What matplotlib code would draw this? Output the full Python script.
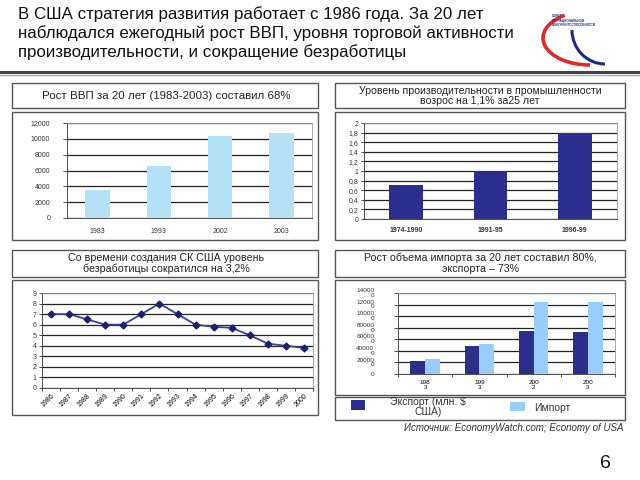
import numpy as np
import matplotlib
matplotlib.use('Agg')
import matplotlib.pyplot as plt
from matplotlib.patches import Rectangle, Arc

plt.rcParams['font.family'] = ['Liberation Sans', 'DejaVu Sans']

W, H = 640, 480

# data
gdp_years = ['1983', '1993', '2002', '2003']
gdp_vals = [3500, 6600, 10300, 10800]

prod_periods = ['1974-1990', '1991-95', '1996-99']
prod_vals = [0.7, 1.0, 1.8]

unemp_years = ['1986', '1987', '1988', '1989', '1990', '1991', '1992', '1993',
               '1994', '1995', '1996', '1997', '1998', '1999', '2000']
unemp_vals = [7, 7, 6.5, 6, 6, 7, 8, 7, 6, 5.8, 5.7, 5, 4.2, 4, 3.8]

trade_years = ['198\n3', '199\n3', '200\n2', '200\n3']
export_vals = [23000, 48000, 75000, 73000]
import_vals = [26000, 52000, 125000, 124000]
trade_ticks = ['0', '20000\n0', '40000\n0', '60000\n0', '80000\n0',
               '10000\n0', '12000\n0', '14000\n0']

light = '#b3e1f7'
navy = '#2b2e8c'
imp_col = '#99ccff'


def rect(x0, y0, x1, y1):
    return [x0 / W, 1 - y1 / H, (x1 - x0) / W, (y1 - y0) / H]


def fx(x):
    return x / W


def fy(y):
    return 1 - y / H


fig = plt.figure(figsize=(6.4, 4.8), dpi=100)


def frame(x0, y0, x1, y1, lw=1.0):
    fig.patches.append(Rectangle((fx(x0), fy(y1)), (x1 - x0) / W, (y1 - y0) / H,
                                 transform=fig.transFigure, fill=False,
                                 edgecolor='#555555', linewidth=lw))


def style_ax(ax):
    ax.set_facecolor('white')
    for s in ['top', 'right']:
        ax.spines[s].set_color('#999999')
        ax.spines[s].set_linewidth(0.6)
    ax.spines['left'].set_color('#333333')
    ax.spines['bottom'].set_color('#333333')
    ax.spines['left'].set_linewidth(0.6)
    ax.spines['bottom'].set_linewidth(0.6)
    ax.yaxis.grid(True, color='#222222', linewidth=0.9)
    ax.set_axisbelow(True)
    ax.tick_params(labelsize=5, length=2, width=0.6, pad=2, colors='#333333')


# heading
title = ('В США стратегия развития работает с 1986 года. За 20 лет\n'
         'наблюдался ежегодный рост ВВП, уровня торговой активности\n'
         'производительности, и сокращение безработицы')
fig.text(fx(18), fy(6), title, fontsize=12.2, va='top', ha='left',
         linespacing=1.24, color='#111111')
fig.lines.append(plt.Line2D([0, 1], [fy(72), fy(72)], transform=fig.transFigure,
                            color='#444444', linewidth=2.2))
fig.lines.append(plt.Line2D([0, 1], [fy(75), fy(75)], transform=fig.transFigure,
                            color='#aaaaaa', linewidth=1.0))

# logo (pixel coordinates, y down)
lax = fig.add_axes(rect(535, 8, 615, 70))
lax.set_xlim(535, 615)
lax.set_ylim(70, 8)
lax.axis('off')
lax.add_patch(Arc((590, 38), 94, 54, theta1=90, theta2=222, color='#dd2a2a', lw=2.6))
lax.add_patch(Arc((605, 30), 66, 68, theta1=90, theta2=180, color='#1c2a80', lw=2.2))
lax.text(552, 14, 'СОВЕТ\nПО НАЦИОНАЛЬНОЙ\nКОНКУРЕНТОСПОСОБНОСТИ', fontsize=2.2,
         color='#1f2a7a', va='top', fontweight='bold', linespacing=1.2)

# panel 1: GDP
frame(12, 83, 318, 108)
fig.text(fx(166), fy(96), 'Рост ВВП за 20 лет (1983-2003) составил 68%',
         fontsize=8.25, ha='center', va='center', color='#222222')
frame(12, 112, 318, 240)
ax1 = fig.add_axes(rect(67, 123, 312, 218))
style_ax(ax1)
x = np.arange(len(gdp_years))
ax1.bar(x, gdp_vals, width=0.4, color=light)
ax1.set_xlim(-0.5, len(gdp_years) - 0.5)
ax1.set_ylim(0, 12000)
ax1.set_yticks(range(0, 12001, 2000))
ax1.tick_params(axis='y', length=3, pad=9)
ax1.set_xticks(x)
ax1.set_xticklabels(gdp_years)
ax1.tick_params(axis='x', length=0, pad=7)

# panel 2: productivity
frame(335, 83, 625, 108)
fig.text(fx(480), fy(96), 'Уровень производительности в промышленности\nвозрос на 1,1% за25 лет',
         fontsize=7.6, ha='center', va='center', color='#222222', linespacing=1.1)
frame(335, 112, 625, 240)
ax2 = fig.add_axes(rect(364, 123, 617, 219))
style_ax(ax2)
x = np.arange(len(prod_periods))
ax2.bar(x, prod_vals, width=0.4, color=navy)
ax2.set_xlim(-0.5, len(prod_periods) - 0.5)
ax2.set_ylim(0, 2)
yt = np.arange(0, 2.01, 0.2)
ax2.set_yticks(yt)
ax2.set_yticklabels([('%g' % v).replace('.', ',') for v in yt])
ax2.set_xticks(x)
ax2.set_xticklabels(prod_periods, fontweight='bold')
ax2.tick_params(axis='x', length=0, pad=6)

# panel 3: unemployment
frame(12, 250, 318, 277)
fig.text(fx(166), fy(263.5), 'Со времени создания СК США уровень\nбезработицы сократился на 3,2%',
         fontsize=7.7, ha='center', va='center', color='#222222', linespacing=1.15)
frame(12, 280, 318, 415)
ax3 = fig.add_axes(rect(42, 293, 313, 388))
style_ax(ax3)
x = np.arange(len(unemp_years))
ax3.plot(x, unemp_vals, color='#3a3fa0', marker='D', markersize=3.5,
         markerfacecolor='#1a1f70', markeredgecolor='#1a1f70', linewidth=1.3)
ax3.set_xlim(-0.5, len(unemp_years) - 0.5)
ax3.set_ylim(0, 9)
ax3.set_yticks(range(0, 10))
ax3.set_xticks(np.arange(-0.5, len(unemp_years), 1), minor=False)
ax3.set_xticklabels([])
ax3.set_xticks(x, minor=True)
ax3.set_xticklabels(unemp_years, minor=True, rotation=45, ha='right',
                    rotation_mode='anchor')
ax3.tick_params(axis='x', which='minor', length=0, labelsize=5, pad=3)

# panel 4: trade
frame(335, 250, 625, 277)
fig.text(fx(480), fy(263.5), 'Рост объема импорта за 20 лет составил 80%,\nэкспорта – 73%',
         fontsize=7.7, ha='center', va='center', color='#222222', linespacing=1.15)
frame(335, 280, 625, 395)
ax4 = fig.add_axes(rect(398, 293, 615, 374))
style_ax(ax4)
x = np.arange(len(trade_years))
bw = 0.27
ax4.bar(x - bw / 2, export_vals, width=bw, color=navy)
ax4.bar(x + bw / 2, import_vals, width=bw, color=imp_col)
ax4.set_xlim(-0.5, len(trade_years) - 0.5)
ax4.set_ylim(0, 140000)
ax4.set_yticks(range(0, 140001, 20000))
ax4.set_yticklabels(trade_ticks, va='center', linespacing=0.9)
ax4.tick_params(axis='y', labelsize=4.6, length=3, pad=14)
ax4.set_xticks(np.arange(-0.5, len(trade_years), 1))
ax4.set_xticklabels([])
ax4.set_xticks(x, minor=True)
ax4.set_xticklabels(trade_years, minor=True, fontsize=4.6, linespacing=1.0)
ax4.tick_params(axis='x', which='minor', length=0, pad=4, labelsize=4.6)

# legend box
frame(335, 397, 625, 420)
fig.patches.append(Rectangle((fx(351), fy(410)), 14 / W, 10 / H, transform=fig.transFigure,
                             facecolor=navy, edgecolor='none'))
fig.text(fx(428), fy(407), 'Экспорт (млн. $\nСША)', fontsize=7.5, ha='center',
         va='center', color='#333333', linespacing=1.1)
fig.patches.append(Rectangle((fx(510), fy(411)), 15 / W, 9 / H, transform=fig.transFigure,
                             facecolor=imp_col, edgecolor='none'))
fig.text(fx(534), fy(408), 'Импорт', fontsize=7.5, ha='left', va='center', color='#333333')

fig.text(fx(624), fy(428), 'Источник: EconomyWatch.com; Economy of USA', fontsize=7,
         ha='right', va='center', style='italic', color='#333333')

fig.text(fx(605), fy(463), '6', fontsize=14, ha='center', va='center', color='#111111')

fig.savefig('out.png', dpi=100)
